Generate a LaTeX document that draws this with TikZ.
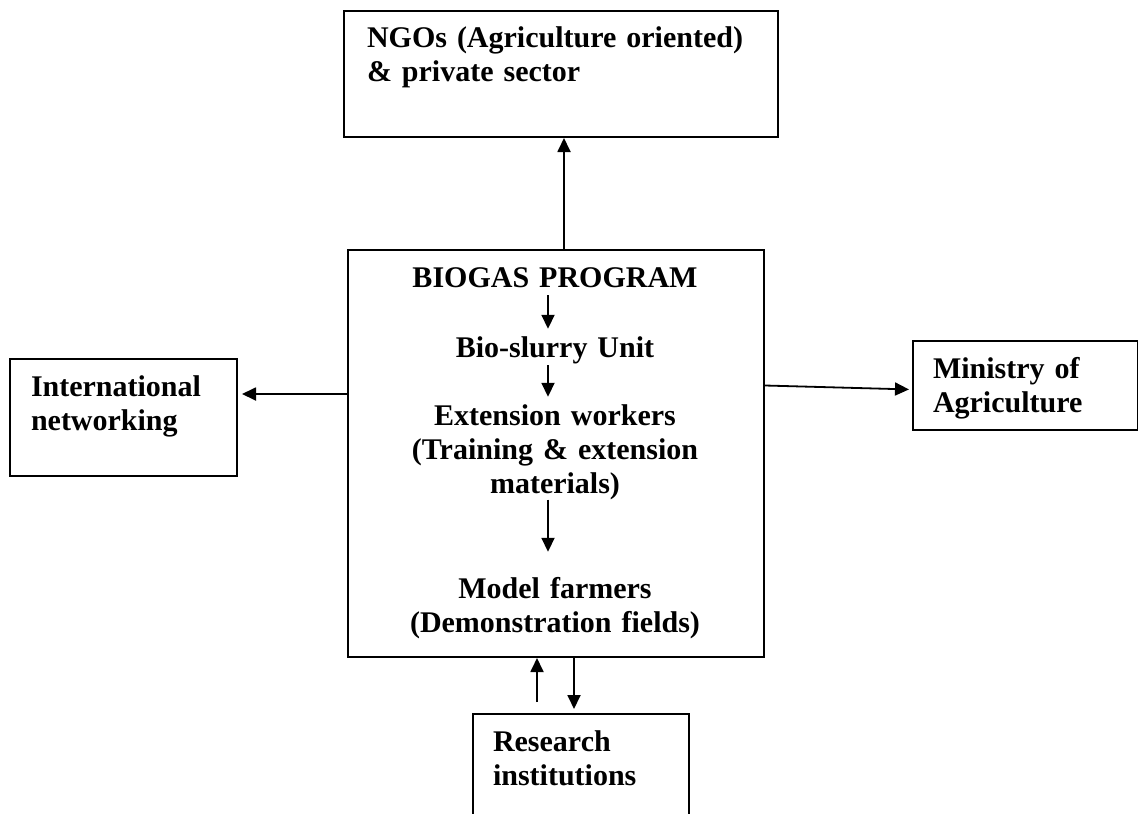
\documentclass[tikz,border=0pt]{standalone}
\usepackage{fontspec}
\setmainfont{Liberation Serif}
\usetikzlibrary{arrows.meta, calc}

\begin{document}
\begin{tikzpicture}[
  x=1pt, y=-1pt,
  font=\fontsize{30pt}{34pt}\selectfont\bfseries,
  partner/.style={
    draw, line width=2pt, anchor=north west, align=left,
    inner ysep=0pt, text height=37pt
  },
  stage/.style={
    align=center, text width=400pt, inner sep=0pt,
    anchor=base, text height=22pt
  },
  arrow/.style={-{Triangle[length=14pt, width=13pt]}, line width=1.8pt},
]
\useasboundingbox (0,0) rectangle (1138,814);

% Partner boxes round the program
\node[partner, inner xsep=23pt, text width=388pt, text height=36pt, text depth=90pt] (ngo) at (343,10) {NGOs (Agriculture oriented)\\ \& private sector};
\node[partner, inner xsep=21pt, text width=185pt, text depth=80pt] (intl) at (9,358) {International\\ networking};
\node[partner, inner xsep=20pt, text width=185pt, text depth=52pt] (ministry) at (912,340) {Ministry of\\ Agriculture};
\node[partner, inner xsep=20pt, text width=176pt, text depth=130pt] (research) at (472,713) {Research\\ institutions};

% Program box and the chain inside it
\node[draw, line width=2pt, anchor=north west, minimum width=416pt, minimum height=407pt] (prog) at (347,249) {};
\node[stage, text depth=8pt] (biogas) at (555,287) {BIOGAS PROGRAM};
\node[stage, text depth=8pt] (slurry) at (555,357) {Bio-slurry Unit};
\node[stage] (workers) at (555,425) {Extension workers\\ (Training \& extension\\ materials)};
\node[stage] (farmers) at (555,598) {Model farmers\\ (Demonstration fields)};

\draw[arrow, shorten >=6pt] ([xshift=-7pt]biogas.south) -- ([xshift=-7pt]slurry.north);
\draw[arrow, shorten >=6pt] ([xshift=-7pt]slurry.south) -- ([xshift=-7pt]workers.north);
\draw[arrow, shorten >=24pt] ([xshift=-7pt]workers.south) -- ([xshift=-7pt]farmers.north);

% Links to the partners
\draw[arrow] ([xshift=8pt]prog.north) -- ([xshift=8pt]prog.north |- ngo.south);
\draw[arrow, shorten >=4pt] ([yshift=59.5pt]prog.west) -- ([yshift=59.5pt]prog.west -| intl.east);
\draw[arrow, shorten >=3pt] (prog.east |- ministry.west) -- ([yshift=-4pt]ministry.west);
\draw[arrow, shorten <=11pt] ([xshift=-44pt]research.north) -- ([xshift=-44pt]research.north |- prog.south);
\draw[arrow, shorten >=4pt] ([xshift=-7pt]research.north |- prog.south) -- ([xshift=-7pt]research.north);

\end{tikzpicture}
\end{document}
